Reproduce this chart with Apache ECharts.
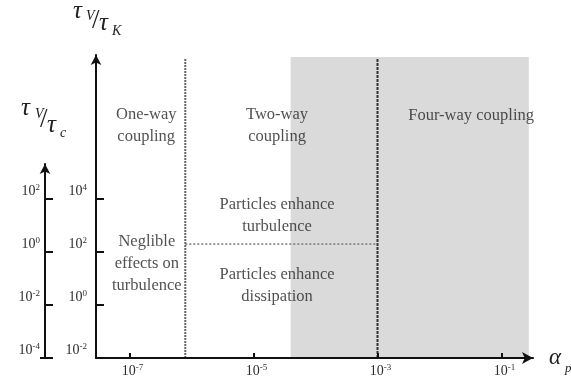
<!DOCTYPE html>
<html><head><meta charset="utf-8">
<script src="https://cdn.jsdelivr.net/npm/echarts@6/dist/echarts.min.js"></script>
<style>html,body{margin:0;padding:0;background:#fff}#c{width:571px;height:381px}</style>
</head><body><div id="c"></div>
<script>
// All values are log10 exponents.
const xTickExponents = [-7, -5, -3, -1];      // volume fraction alpha_p
const yTickExponents = [-2, 0, 2, 4];         // tau_p / tau_K
const y2TickExponents = [-4, -2, 0, 2];       // tau_p / tau_c
// regime boundaries
const oneTwoBoundary = -6.1;     // alpha_p
const twoFourBoundary = -3;      // alpha_p
const turbDissBoundary = 2.3;    // tau_p / tau_K
const boundaryTop = 9.28;        // tau_p / tau_K
const fourWayShadeStart = -4.4;  // alpha_p
const fourWayShadeEnd = -0.56;   // alpha_p
const fourWayShadeTop = 9.36;    // tau_p / tau_K
// regime labels
const regionNames = ['One-way\ncoupling', 'Two-way\ncoupling', 'Four-way coupling',
  'Particles enhance\nturbulence', 'Particles enhance\ndissipation', 'Neglible\neffects on\nturbulence'];
const regionAlpha = [-6.73, -4.62, -1.49, -4.62, -4.62, -6.72];
const regionTau = [6.75, 6.75, 7.13, 3.36, 0.72, 1.55];

// axis extents
const xMin = -7.54, xMax = -0.492;
const yMin = -2, yMax = 9.434;
const y2Min = -4, y2Max = 3.32;

const serif = 'Liberation Serif';
const ink = '#111';
const txt = '#262626';
const richTicks = {
  b: {fontFamily: serif, fontSize: 14, color: '#2e2e2e', lineHeight: 16},
  s: {fontFamily: serif, fontSize: 9, color: '#2e2e2e', lineHeight: 9, verticalAlign: 'top'}
};
const fmt = v => '{b|10}{s|' + v + '}';

const chart = echarts.init(document.getElementById('c'), null, {renderer: 'canvas'});
const axisLineStyle = {color: ink, width: 2};

function t(text, x, y, size, italic) {
  return {type: 'text', x: x, y: y, silent: true, z: 20,
    style: {text: text, fontFamily: serif, fontSize: size, fontStyle: italic ? 'italic' : 'normal',
      fill: '#222', align: 'left', verticalAlign: 'middle'}};
}

chart.setOption({
  animation: false,
  grid: [
    {left: 96, right: 38, top: 55, bottom: 23},
    {left: 45, width: 10, top: 164, bottom: 23}
  ],
  xAxis: [
    {gridIndex: 0, type: 'value', min: xMin, max: xMax, z: 10,
      axisLine: {onZero: false, symbol: ['none', 'arrow'], symbolSize: [9, 11], lineStyle: axisLineStyle},
      axisTick: {customValues: xTickExponents, inside: true, length: 5, lineStyle: {color: ink, width: 2}},
      axisLabel: {customValues: xTickExponents, formatter: fmt, rich: richTicks, margin: 5, padding: [0, 0, 0, 6]},
      splitLine: {show: false}},
    {gridIndex: 1, type: 'value', min: 0, max: 1, show: false}
  ],
  yAxis: [
    {gridIndex: 0, type: 'value', min: yMin, max: yMax, z: 10,
      axisLine: {show: true, onZero: false, symbol: ['none', 'arrow'], symbolSize: [8, 10], lineStyle: axisLineStyle},
      axisTick: {show: true, customValues: yTickExponents, inside: true, length: 8, lineStyle: {color: ink, width: 2}},
      axisLabel: {customValues: yTickExponents, formatter: fmt, rich: richTicks, margin: 9, verticalAlign: 'bottom'},
      splitLine: {show: false}},
    {gridIndex: 1, type: 'value', min: y2Min, max: y2Max, z: 10,
      axisLine: {show: true, onZero: false, symbol: ['none', 'arrow'], symbolSize: [8, 10], lineStyle: axisLineStyle},
      axisTick: {show: true, customValues: y2TickExponents, inside: true, length: 8, lineStyle: {color: ink, width: 2}},
      axisLabel: {customValues: y2TickExponents, formatter: fmt, rich: richTicks, margin: 5, verticalAlign: 'bottom'},
      splitLine: {show: false}}
  ],
  series: [
    {type: 'line', z: 1, xAxisIndex: 0, yAxisIndex: 0, data: [[fourWayShadeStart, yMin]], symbol: 'none', silent: true,
      lineStyle: {width: 0},
      markArea: {silent: true, itemStyle: {color: '#dadada'},
        data: [[{xAxis: fourWayShadeStart, yAxis: yMin}, {xAxis: fourWayShadeEnd, yAxis: fourWayShadeTop}]]}},
    {type: 'line', data: [[oneTwoBoundary, yMin], [oneTwoBoundary, boundaryTop]], symbol: 'none', silent: true,
      lineStyle: {color: '#666', width: 2, type: [2, 1]}},
    {type: 'line', data: [[twoFourBoundary, yMin], [twoFourBoundary, boundaryTop]], symbol: 'none', silent: true,
      lineStyle: {color: '#333', width: 2, type: [3, 1]}},
    {type: 'line', data: [[oneTwoBoundary, turbDissBoundary], [twoFourBoundary, turbDissBoundary]], symbol: 'none', silent: true,
      lineStyle: {color: '#777', width: 1.5, type: [2, 2]}},
    {type: 'scatter', symbolSize: 0, silent: true, z: 15,
      data: regionNames.map((n, i) => ({name: n, value: [regionAlpha[i], regionTau[i]]})),
      label: {show: true, position: 'inside', formatter: p => p.name, fontFamily: serif, fontSize: 16.5,
        lineHeight: 22, color: txt, align: 'center', verticalAlign: 'middle'}}
  ],
  graphic: [
    // tau_p / tau_K
    t('τ', 73, 11, 25, true), t('V', 86, 16, 14, true), t('/', 92, 21, 27, false),
    t('τ', 99, 23, 25, true), t('K', 112, 31, 14, true),
    // tau_p / tau_c
    t('τ', 21, 108, 25, true), t('V', 35, 114, 14, true), t('/', 40, 120, 27, false),
    t('τ', 47, 125, 25, true), t('c', 60, 133, 14, true),
    // alpha_p
    t('α', 549, 358, 23, true), t('p', 565, 369, 13, true),
    {type: 'line', silent: true, shape: {x1: 40, y1: 358, x2: 50, y2: 358}, style: {stroke: ink, lineWidth: 2}}
  ]
});
</script></body></html>
